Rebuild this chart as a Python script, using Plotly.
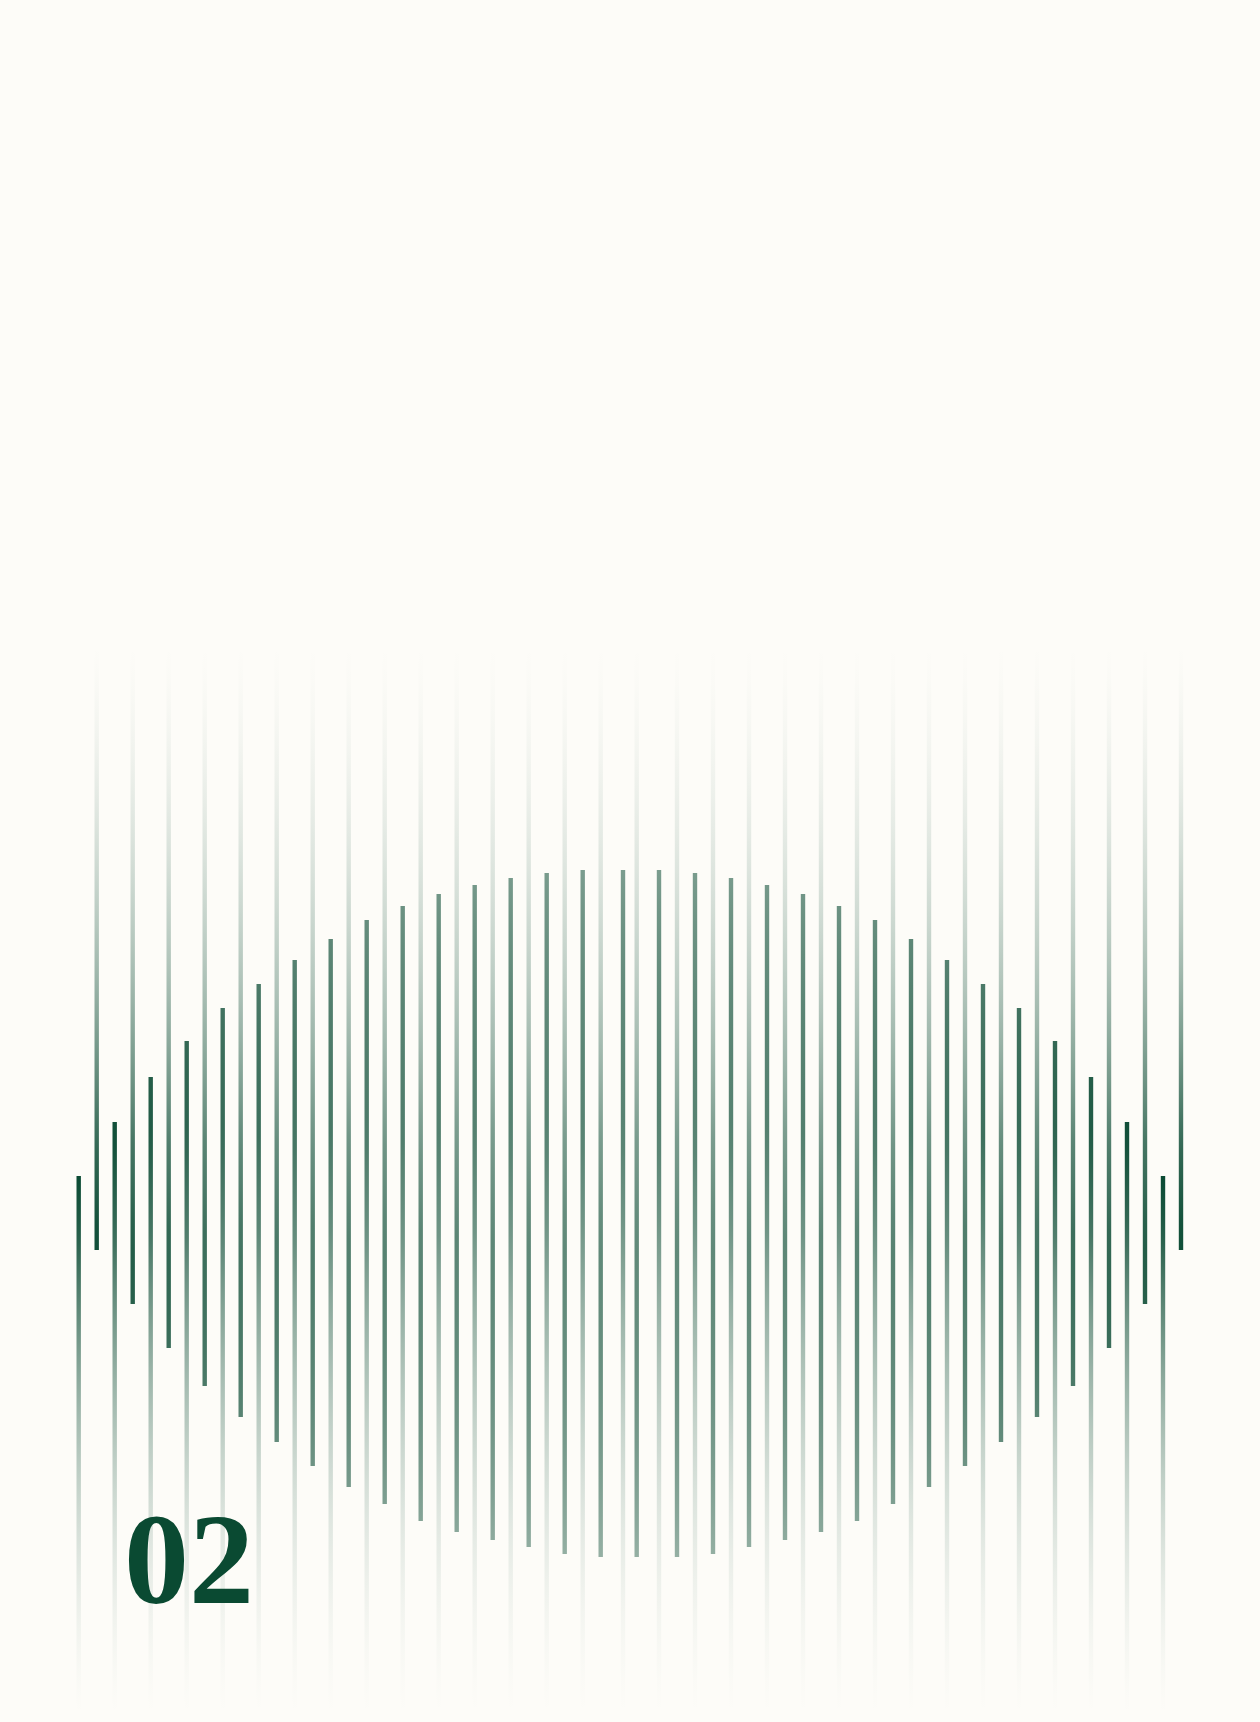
import plotly.graph_objects as go

# line positions (x) and the inner ends of the rising / hanging strokes (y, downward)
down_x = [78.7, 114.7, 150.7, 186.7, 222.7, 258.7, 294.7, 330.7, 366.7, 402.7,
          438.7, 474.7, 510.7, 546.7, 582.7, 623.0, 659.0, 695.0, 731.0, 767.0,
          803.0, 839.0, 875.0, 911.0, 947.0, 983.0, 1019.0, 1055.0, 1091.0, 1127.0, 1163.0]
down_top = [1176, 1122, 1077, 1041, 1008, 984, 960, 939, 920, 906,
            894, 885, 878, 873, 870, 870, 870, 873, 878, 885,
            894, 906, 920, 939, 960, 984, 1008, 1041, 1077, 1122, 1176]

up_x = [96.7, 132.7, 168.7, 204.7, 240.7, 276.7, 312.7, 348.7, 384.7, 420.7,
        456.7, 492.7, 528.7, 564.7, 600.7, 636.7, 677.0, 713.0, 749.0, 785.0,
        821.0, 857.0, 893.0, 929.0, 965.0, 1001.0, 1037.0, 1073.0, 1109.0, 1145.0, 1181.0]
up_bottom = [1250, 1304, 1348, 1386, 1417, 1442, 1466, 1487, 1504, 1521,
             1532, 1540, 1547, 1554, 1557, 1557, 1557, 1554, 1547, 1540,
             1532, 1521, 1504, 1487, 1466, 1442, 1417, 1386, 1348, 1304, 1250]

CEIL = 645     # where the hanging strokes fade out
FLOOR = 1715   # where the rising strokes fade out
label = "02"

BG = "#fdfcf8"
GREEN = (10, 74, 51)
LINE_W = 4.4
STEPS = 24
EDGE = 0.15


def mask(y):
    # soft vertical mask over the whole block
    if y <= CEIL or y >= FLOOR:
        return EDGE
    if y < 1140:
        return EDGE + (1 - EDGE) * (y - CEIL) / (1140 - CEIL)
    if y > 1235:
        return EDGE + (1 - EDGE) * (FLOOR - y) / (FLOOR - 1235)
    return 1.0


def stroke(x, y0, y1, strong_end):
    # y0 < y1 ; strong_end is the y where the stroke is fully inked
    scale = []
    for i in range(STEPS + 1):
        t = i / STEPS
        y = y0 + t * (y1 - y0)
        if strong_end == y0:
            own = (y1 - y) / (y1 - y0)
        else:
            own = (y - y0) / (y1 - y0)
        a = max(0.0, min(1.0, own * mask(y)))
        scale.append([t, "rgba(%d,%d,%d,%.3f)" % (*GREEN, a)])
    h = LINE_W / 2
    return go.Scatter(
        x=[x - h, x + h, x + h, x - h, x - h],
        y=[y0, y0, y1, y1, y0],
        mode="lines",
        line=dict(width=0),
        fill="toself",
        fillgradient=dict(type="vertical", colorscale=scale, start=y0, stop=y1),
        hoverinfo="skip",
        showlegend=False,
    )


fig = go.Figure()
for x, top in zip(down_x, down_top):
    fig.add_trace(stroke(x, top, FLOOR, top))
for x, bot in zip(up_x, up_bottom):
    fig.add_trace(stroke(x, CEIL, bot, bot))

fig.add_annotation(
    x=122, y=1604, xref="x", yref="y",
    text="<b>%s</b>" % label, showarrow=False,
    xanchor="left", yanchor="bottom",
    font=dict(family="Liberation Serif", size=130, color="#0a4a32"),
    yshift=-29,
)

fig.update_layout(
    width=1260, height=1722,
    margin=dict(l=0, r=0, t=0, b=0),
    paper_bgcolor=BG, plot_bgcolor=BG,
    xaxis=dict(range=[0, 1260], visible=False, fixedrange=True),
    yaxis=dict(range=[1722, 0], visible=False, fixedrange=True),
)

fig.write_html("out.html", config={"displayModeBar": False},
               post_script="document.body.style.margin='0';")
